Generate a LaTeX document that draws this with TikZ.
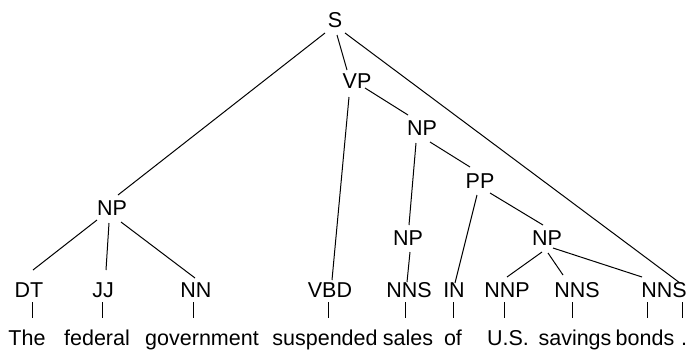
\documentclass[tikz,border=0pt]{standalone}
\usepackage{fontspec}
\setmainfont{Liberation Sans}
\usetikzlibrary{calc}
\begin{document}
\begin{tikzpicture}[x=1pt,y=-1pt,
  lab/.style={anchor=base,inner sep=0pt,font=\fontsize{21.5}{25}\selectfont},
  wrd/.style={anchor=base,inner sep=0pt,font=\fontsize{21.5}{25}\selectfont},
  edge/.style={line width=1pt,black}]
\useasboundingbox (0,0) rectangle (687,351);
% phrase labels
\node[lab] (S)   at (335,27)  {S};
\node[lab] (VP)  at (357,88)  {VP};
\node[lab] (NPa) at (422,135) {NP};
\node[lab] (PP)  at (480,188) {PP};
\node[lab] (NPl) at (112,215) {NP};
\node[lab] (NPb) at (408,245) {NP};
\node[lab] (NPc) at (547,245) {NP};
% POS tags
\node[lab] (DT)   at (29,297)  {DT};
\node[lab] (JJ)   at (103,297) {JJ};
\node[lab] (NN)   at (196,297) {NN};
\node[lab] (VBD)  at (330,297) {VBD};
\node[lab] (NNSa) at (409,297) {NNS};
\node[lab] (IN)   at (454,297) {IN};
\node[lab] (NNP)  at (507,297) {NNP};
\node[lab] (NNSb) at (577,297) {NNS};
\node[lab] (NNSc) at (664,297) {NNS};
% words
\node[wrd] (The) at (27,345)  {The};
\node[wrd] (federal) at (97,345) {federal};
\node[wrd] (government) at (202,345) {government};
\node[wrd] (suspended) at (325,345) {suspended};
\node[wrd] (sales) at (408,345) {sales};
\node[wrd] (of) at (453,345) {of};
\node[wrd] (US) at (508,345) {U.S.};
\node[wrd] (savings) at (575,345) {savings};
\node[wrd] (bonds) at (645,345) {bonds};
\node[wrd] (dot) at (684,345) {.};
% tree edges
\draw[edge] ($(S.base)+(-10,6)$) -- ($(NPl.base)+(6,-20)$);
\draw[edge] ($(S.base)+(2,8)$) -- ($(VP.base)+(-10,-18)$);
\draw[edge] ($(S.base)+(10,6)$) -- ($(NNSc.base)+(16,-14)$);
\draw[edge] ($(VP.base)+(-8,9)$) -- ($(VBD.base)+(2,-17)$);
\draw[edge] ($(VP.base)+(8,0)$) -- ($(NPa.base)+(-14,-20)$);
\draw[edge] ($(NPa.base)+(-6,8)$) -- ($(NPb.base)+(1,-20)$);
\draw[edge] ($(NPa.base)+(8,7)$) -- ($(PP.base)+(-10,-21)$);
\draw[edge] ($(NPb.base)+(2,7)$) -- ($(NNSa.base)+(-2,-15)$);
\draw[edge] ($(PP.base)+(-3,7)$) -- ($(IN.base)+(1,-14)$);
\draw[edge] ($(PP.base)+(10,5)$) -- ($(NPc.base)+(-4,-20)$);
\draw[edge] ($(NPc.base)+(-5,7)$) -- ($(NNP.base)+(0,-20)$);
\draw[edge] ($(NPc.base)+(1,8)$) -- ($(NNSb.base)+(-14,-22)$);
\draw[edge] ($(NPc.base)+(6,3)$) -- ($(NNSc.base)+(-22,-20)$);
\draw[edge] ($(NPl.base)+(-15,5)$) -- ($(DT.base)+(4,-27)$);
\draw[edge] ($(NPl.base)+(-3,8)$) -- ($(JJ.base)+(3,-27)$);
\draw[edge] ($(NPl.base)+(9,7)$) -- ($(NN.base)+(-1,-19)$);
% ticks to words
\draw[edge] ($(DT.base)+(3,5)$) -- ($(The.base)+(5,-27)$);
\draw[edge] ($(JJ.base)+(-1,5)$) -- ($(federal.base)+(5,-27)$);
\draw[edge] ($(NN.base)+(-3,5)$) -- ($(government.base)+(-9,-27)$);
\draw[edge] ($(VBD.base)+(-2,5)$) -- ($(suspended.base)+(3,-27)$);
\draw[edge] ($(NNSa.base)+(-4,5)$) -- ($(sales.base)+(-3,-27)$);
\draw[edge] ($(IN.base)+(-1,5)$) -- ($(of.base)+(0,-27)$);
\draw[edge] ($(NNP.base)+(-3,5)$) -- ($(US.base)+(-4,-27)$);
\draw[edge] ($(NNSb.base)+(-5,5)$) -- ($(savings.base)+(-3,-27)$);
\draw[edge] ($(NNSc.base)+(-17,5)$) -- ($(bonds.base)+(2,-27)$);
\draw[edge] ($(NNSc.base)+(18,5)$) -- ($(dot.base)+(-2,-27)$);
\end{tikzpicture}
\end{document}
